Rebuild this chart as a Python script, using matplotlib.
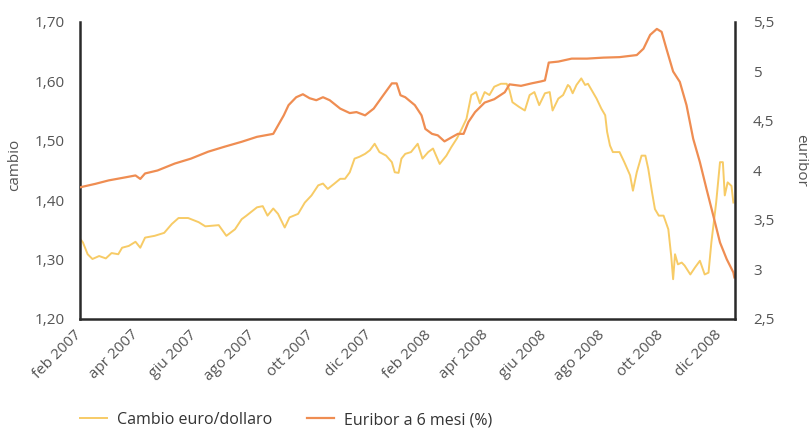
import matplotlib
matplotlib.use("Agg")
import matplotlib.pyplot as plt
import pandas as pd

# Cambio euro/dollaro (asse sinistro)
cambio_dates = [
    "2007-01-27", "2007-01-30", "2007-02-04", "2007-02-09", "2007-02-16", "2007-02-23",
    "2007-03-01", "2007-03-08", "2007-03-12", "2007-03-19", "2007-03-26", "2007-03-31",
    "2007-04-05", "2007-04-15", "2007-04-25", "2007-05-03", "2007-05-10", "2007-05-20",
    "2007-05-31", "2007-06-07", "2007-06-14", "2007-06-21", "2007-06-29", "2007-07-08",
    "2007-07-15", "2007-07-20", "2007-07-31", "2007-08-06", "2007-08-11", "2007-08-17",
    "2007-08-22", "2007-08-29", "2007-09-03", "2007-09-12", "2007-09-19", "2007-09-26",
    "2007-10-03", "2007-10-08", "2007-10-13", "2007-10-20", "2007-10-26", "2007-10-31",
    "2007-11-05", "2007-11-10", "2007-11-15", "2007-11-21", "2007-11-26", "2007-12-01",
    "2007-12-06", "2007-12-13", "2007-12-19", "2007-12-22", "2007-12-26", "2007-12-29",
    "2008-01-02", "2008-01-08", "2008-01-15", "2008-01-20", "2008-01-26", "2008-01-31",
    "2008-02-07", "2008-02-14", "2008-02-19", "2008-02-25", "2008-03-01", "2008-03-06",
    "2008-03-11", "2008-03-16", "2008-03-20", "2008-03-25", "2008-03-30", "2008-04-04",
    "2008-04-11", "2008-04-17", "2008-04-20", "2008-04-23", "2008-04-30", "2008-05-06",
    "2008-05-11", "2008-05-16", "2008-05-21", "2008-05-27", "2008-06-01", "2008-06-04",
    "2008-06-10", "2008-06-15", "2008-06-20", "2008-06-22", "2008-06-25", "2008-06-29",
    "2008-07-04", "2008-07-08", "2008-07-11", "2008-07-15", "2008-07-20", "2008-07-25",
    "2008-07-29", "2008-07-31", "2008-08-03", "2008-08-06", "2008-08-13", "2008-08-18",
    "2008-08-24", "2008-08-27", "2008-08-31", "2008-09-05", "2008-09-09", "2008-09-12",
    "2008-09-16", "2008-09-19", "2008-09-23", "2008-09-28", "2008-10-03", "2008-10-06",
    "2008-10-08", "2008-10-10", "2008-10-13", "2008-10-17", "2008-10-20", "2008-10-26",
    "2008-10-31", "2008-11-05", "2008-11-10", "2008-11-14", "2008-11-17", "2008-11-22",
    "2008-11-26", "2008-11-29", "2008-12-01", "2008-12-04", "2008-12-08", "2008-12-10",
]
cambio = [
    1.335, 1.329, 1.309, 1.301, 1.306, 1.302,
    1.311, 1.309, 1.320, 1.323, 1.330, 1.320,
    1.337, 1.340, 1.345, 1.360, 1.370, 1.370,
    1.363, 1.356, 1.357, 1.358, 1.340, 1.351,
    1.368, 1.374, 1.388, 1.390, 1.374, 1.386,
    1.377, 1.354, 1.371, 1.377, 1.396, 1.408,
    1.425, 1.428, 1.419, 1.428, 1.436, 1.436,
    1.447, 1.470, 1.473, 1.478, 1.484, 1.495,
    1.481, 1.475, 1.464, 1.447, 1.446, 1.470,
    1.478, 1.481, 1.495, 1.470, 1.481, 1.487,
    1.461, 1.475, 1.489, 1.504, 1.520, 1.537,
    1.577, 1.582, 1.563, 1.582, 1.577, 1.591,
    1.596, 1.596, 1.585, 1.565, 1.557, 1.551,
    1.577, 1.582, 1.560, 1.580, 1.582, 1.551,
    1.571, 1.577, 1.594, 1.591, 1.580, 1.594,
    1.605, 1.594, 1.596, 1.585, 1.571, 1.554,
    1.543, 1.515, 1.492, 1.481, 1.481, 1.464,
    1.442, 1.416, 1.447, 1.475, 1.475, 1.453,
    1.413, 1.385, 1.374, 1.374, 1.351, 1.306,
    1.267, 1.309, 1.292, 1.295, 1.290, 1.275,
    1.287, 1.298, 1.275, 1.278, 1.329, 1.396,
    1.464, 1.464, 1.408, 1.430, 1.424, 1.396,
]

# Euribor a 6 mesi (asse destro)
euribor_dates = [
    "2007-01-27", "2007-02-12", "2007-02-26", "2007-03-15", "2007-03-26", "2007-03-31",
    "2007-04-05", "2007-04-18", "2007-05-06", "2007-05-23", "2007-06-10", "2007-06-27",
    "2007-07-15", "2007-07-31", "2007-08-17", "2007-08-28", "2007-09-02", "2007-09-10",
    "2007-09-17", "2007-09-24", "2007-10-01", "2007-10-08", "2007-10-15", "2007-10-26",
    "2007-11-05", "2007-11-12", "2007-11-21", "2007-11-30", "2007-12-10", "2007-12-19",
    "2007-12-24", "2007-12-28", "2008-01-02", "2008-01-12", "2008-01-19", "2008-01-23",
    "2008-01-30", "2008-02-05", "2008-02-12", "2008-02-20", "2008-02-26", "2008-03-03",
    "2008-03-08", "2008-03-15", "2008-03-25", "2008-04-04", "2008-04-15", "2008-04-20",
    "2008-05-02", "2008-05-13", "2008-05-23", "2008-05-27", "2008-05-31", "2008-06-10",
    "2008-06-24", "2008-07-10", "2008-07-27", "2008-08-13", "2008-08-31", "2008-09-07",
    "2008-09-14", "2008-09-21", "2008-09-26", "2008-10-01", "2008-10-08", "2008-10-15",
    "2008-10-22", "2008-10-29", "2008-11-05", "2008-11-12", "2008-11-19", "2008-11-26",
    "2008-12-03", "2008-12-10", "2008-12-11",
]
euribor = [
    3.83, 3.865, 3.90, 3.93, 3.95, 3.915,
    3.97, 4.00, 4.07, 4.12, 4.19, 4.24,
    4.29, 4.34, 4.37, 4.557, 4.66, 4.74,
    4.77, 4.73, 4.71, 4.74, 4.71, 4.625,
    4.58, 4.59, 4.557, 4.625, 4.76, 4.88,
    4.88, 4.76, 4.74, 4.66, 4.557, 4.42,
    4.37, 4.355, 4.294, 4.338, 4.37, 4.37,
    4.49, 4.59, 4.686, 4.72, 4.79, 4.87,
    4.855, 4.88, 4.90, 4.91, 5.09, 5.10,
    5.13, 5.13, 5.14, 5.145, 5.166, 5.23,
    5.37, 5.43, 5.40, 5.23, 5.00, 4.895,
    4.66, 4.32, 4.084, 3.81, 3.544, 3.273,
    3.105, 2.97, 2.92,
]

tick_dates = ["2007-02-01", "2007-04-01", "2007-06-01", "2007-08-01", "2007-10-01",
              "2007-12-01", "2008-02-01", "2008-04-01", "2008-06-01", "2008-08-01",
              "2008-10-01", "2008-12-01"]
tick_labels = ["feb 2007", "apr 2007", "giu 2007", "ago 2007", "ott 2007", "dic 2007",
               "feb 2008", "apr 2008", "giu 2008", "ago 2008", "ott 2008", "dic 2008"]
left_ticks = [1.20, 1.30, 1.40, 1.50, 1.60, 1.70]
right_ticks = [2.5, 3, 3.5, 4, 4.5, 5, 5.5]

plt.rcParams['font.family'] = ['Open Sans', 'DejaVu Sans']

col_cambio = '#f7cb66'
col_euribor = '#ef8d52'
col_text = '#555555'
col_spine = '#2a2a2a'
fs = 11

fig = plt.figure(figsize=(8.09, 4.38), dpi=100)
ax1 = fig.add_axes([0.0989, 0.2717, 0.8096, 0.6781])
ax2 = ax1.twinx()

line1 = ax1.plot(pd.to_datetime(cambio_dates), cambio, color=col_cambio, linewidth=1.4,
                 label='Cambio euro/dollaro')
line2 = ax2.plot(pd.to_datetime(euribor_dates), euribor, color=col_euribor, linewidth=1.6,
                 label='Euribor a 6 mesi (%)')

ax1.set_xlim(pd.Timestamp('2007-01-27'), pd.Timestamp('2008-12-11 16:00'))
ax1.set_ylim(1.20, 1.70)
ax2.set_ylim(2.5, 5.5)

ax1.set_xticks(pd.to_datetime(tick_dates))
ax1.set_xticklabels(tick_labels, rotation=45, ha='right', fontsize=fs, color=col_text)
ax1.set_yticks(left_ticks)
ax1.set_yticklabels([f"{v:.2f}".replace('.', ',') for v in left_ticks], fontsize=fs, color=col_text)
ax2.set_yticks(right_ticks)
ax2.set_yticklabels([f"{v:g}".replace('.', ',') for v in right_ticks], fontsize=fs, color=col_text)

ax1.tick_params(axis='both', length=0)
ax1.tick_params(axis='y', pad=11)
ax1.tick_params(axis='x', pad=6)
ax2.tick_params(axis='y', length=0, pad=13)

ax1.set_ylabel('cambio', fontsize=fs, color=col_text)
ax1.yaxis.set_label_coords(-0.088, 0.52)
ax2.set_ylabel('euribor', fontsize=fs, color=col_text, rotation=270, va='center')
ax2.yaxis.set_label_coords(1.1, 0.535)

for sp in ['top', 'right']:
    ax1.spines[sp].set_visible(False)
for sp in ['top', 'left', 'bottom']:
    ax2.spines[sp].set_visible(False)
for sp in [ax1.spines['left'], ax1.spines['bottom'], ax2.spines['right']]:
    sp.set_color(col_spine)
    sp.set_linewidth(1.8)

lns = line1 + line2
fig.legend(lns, [l.get_label() for l in lns], loc='lower left', bbox_to_anchor=(0.081, -0.01),
           ncol=2, frameon=False, fontsize=11.5, handlelength=1.7, handletextpad=0.6,
           columnspacing=2.2, labelcolor='#333333')

fig.savefig('out.png', dpi=100, facecolor='white')
